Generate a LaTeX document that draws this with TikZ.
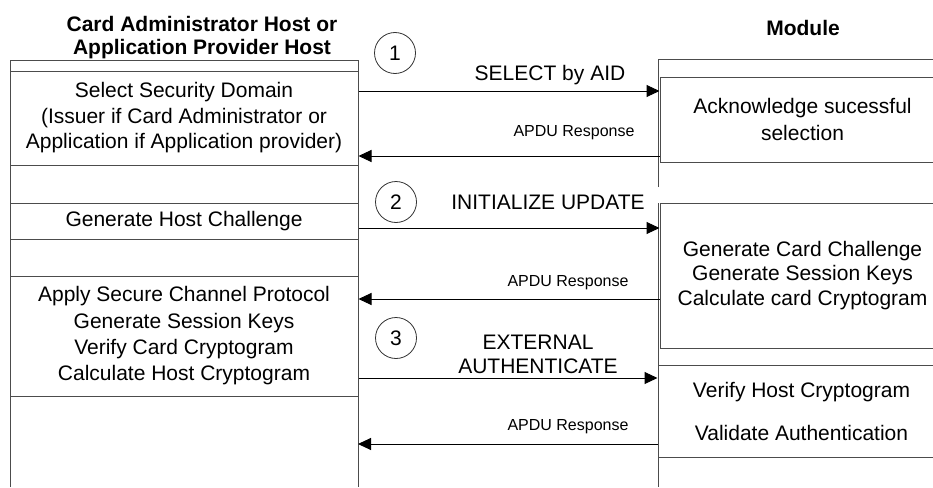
\documentclass[tikz,border=0pt]{standalone}
\usepackage{fontspec}
\setmainfont{Liberation Sans}
\usetikzlibrary{arrows.meta}
\begin{document}
\begin{tikzpicture}[x=1pt,y=-1pt,
  frame/.style={draw=black!70, line width=1pt},
  hostbox/.style={draw=black!70, line width=1pt, minimum width=348pt, inner sep=0pt, align=center, font=\fontsize{21}{25.5}\selectfont},
  modbox/.style={hostbox, minimum width=285pt},
  msg/.style={draw=black, line width=1pt, -{Triangle[length=13pt,width=12pt]}},
  big/.style={font=\fontsize{21}{24}\selectfont, inner sep=0pt},
  small/.style={font=\fontsize{16}{19}\selectfont, inner sep=0pt},
  head/.style={font=\fontsize{21}{23}\selectfont\bfseries, align=center, inner sep=0pt},
  num/.style={circle, draw=black!80, line width=0.8pt, minimum size=41pt, inner sep=0pt, font=\fontsize{21}{25}\selectfont}]
\useasboundingbox (0,0) rectangle (933,487);

% headers
\node[head] (hosthead) at (202,38) {Card Administrator Host or\\Application Provider Host};
\node[head] (modhead) at (803,28.4) {Module};

% lifeline frames
\draw[frame] (10,487) -- (10,60) -- (358,60) -- (358,487);
\coordinate (hostend) at (358,487);
\draw[frame] (658,187) -- (658,59) -- (945,59);
\draw[frame] (658,203) -- (658,487);

% host boxes
\node[hostbox, minimum height=94pt] (L1) at (184,118) {Select Security Domain\\(Issuer if Card Administrator or\\Application if Application provider)};
\node[hostbox, minimum height=36pt] (L2) at (184,221) {Generate Host Challenge};
\node[hostbox, minimum height=120pt, font=\fontsize{21}{26.3}\selectfont] (L3) at (184,336) {Apply Secure Channel Protocol\\Generate Session Keys\\Verify Card Cryptogram\\Calculate Host Cryptogram};

% module boxes
\node[modbox, minimum height=85pt, font=\fontsize{21}{27}\selectfont] (R1) at (802.5,119.5) {Acknowledge sucessful\\selection};
\node[modbox, minimum height=145pt, font=\fontsize{21}{24.3}\selectfont] (R2) at (802.5,275.5) {Generate Card Challenge\\Generate Session Keys\\Calculate card Cryptogram};
\node[modbox, minimum width=287pt, minimum height=92pt] (R3) at (801.5,411) {Verify Host Cryptogram\\[17.5pt]Validate Authentication};

% step numbers
\node[num] (c1) at (395,53) {1};
\node[num] (c2) at (396,202) {2};
\node[num] (c3) at (396,338) {3};

% message rows
\coordinate (m1) at (0,91);
\coordinate (m2) at (0,156);
\coordinate (m3) at (0,228);
\coordinate (m4) at (0,299);
\coordinate (m5) at (0,378);
\coordinate (m6) at (0,444);

\draw[msg] (L1.east |- m1) -- (R1.west |- m1);
\draw[msg] (R1.west |- m2) -- (L1.east |- m2);
\draw[msg] (L2.east |- m3) -- (R2.west |- m3);
\draw[msg] (R2.west |- m4) -- (L3.east |- m4);
\draw[msg] (L3.east |- m5) -- (R3.west |- m5);
\draw[msg] (R3.west |- m6) -- (hostend |- m6);

% labels
\node[big, anchor=base] (t1) at (550,80.5) {SELECT by AID};
\node[small, anchor=base] (t2) at (574,136.7) {APDU Response};
\node[big, anchor=base] (t3) at (548,209.5) {INITIALIZE UPDATE};
\node[small, anchor=base] (t4) at (568,286.7) {APDU Response};
\node[big, align=center] (t5) at (538,354) {EXTERNAL\\AUTHENTICATE};
\node[small, anchor=base] (t6) at (568,430.7) {APDU Response};
\end{tikzpicture}
\end{document}
